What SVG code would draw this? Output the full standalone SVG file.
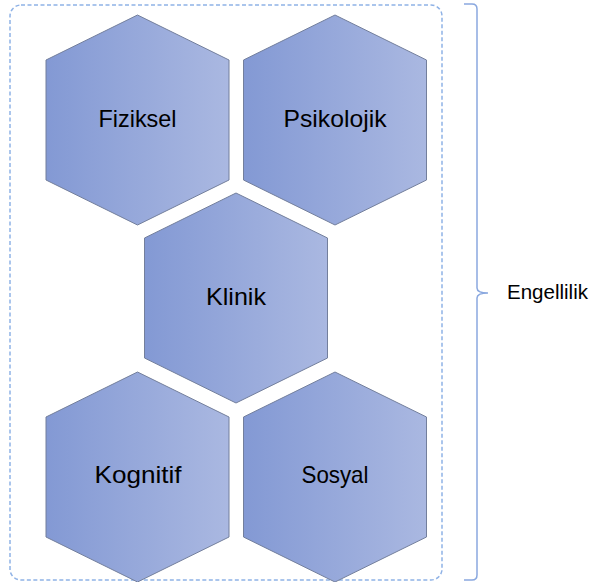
<svg xmlns="http://www.w3.org/2000/svg" width="593" height="582" viewBox="0 0 593 582">
<defs>
<linearGradient id="g" x1="0" y1="0" x2="1" y2="0">
<stop offset="0" stop-color="#8399d4"/>
<stop offset="1" stop-color="#aab8e1"/>
</linearGradient>
<polygon id="hex" points="0,-105 91.5,-60 91.5,60 0,105 -91.5,60 -91.5,-60"/>
</defs>
<style>
.hx{fill:url(#g);stroke:#737f9c;stroke-width:1}
.lb{font-family:"Liberation Sans",Arial,sans-serif;font-size:24px;fill:#000;text-anchor:middle}
.frame{fill:none;stroke:#8fb2e6;stroke-width:1.5;stroke-dasharray:4 2.5}
.brace{fill:none;stroke:#8aa8df;stroke-width:1.5}
</style>
<rect class="frame" x="10" y="5" width="432" height="575" rx="11" ry="11"/>
<g id="connectors">
<path class="brace" d="M464,4 H472 Q477,4 477,9 V288 Q477,293 488,293 Q477,293 477,298 V575 Q477,580 472,580 H464"/>
</g>
<g id="fiziksel"><use href="#hex" class="hx" x="137.5" y="120"/><text class="lb" x="137.5" y="127" textLength="78" lengthAdjust="spacingAndGlyphs">Fiziksel</text></g>
<g id="psikolojik"><use href="#hex" class="hx" x="335" y="120"/><text class="lb" x="335" y="127" textLength="103" lengthAdjust="spacingAndGlyphs">Psikolojik</text></g>
<g id="klinik"><use href="#hex" class="hx" x="236" y="298"/><text class="lb" x="236" y="305" textLength="60" lengthAdjust="spacingAndGlyphs">Klinik</text></g>
<g id="kognitif"><use href="#hex" class="hx" x="137.5" y="477"/><text class="lb" x="138" y="483" textLength="87" lengthAdjust="spacingAndGlyphs">Kognitif</text></g>
<g id="sosyal"><use href="#hex" class="hx" x="335" y="477"/><text class="lb" x="335" y="483" textLength="67" lengthAdjust="spacingAndGlyphs">Sosyal</text></g>
<g id="engellilik"><text x="507" y="299" style="font-family:'Liberation Sans',Arial,sans-serif;font-size:20px;fill:#000" textLength="81" lengthAdjust="spacingAndGlyphs">Engellilik</text></g>
</svg>
